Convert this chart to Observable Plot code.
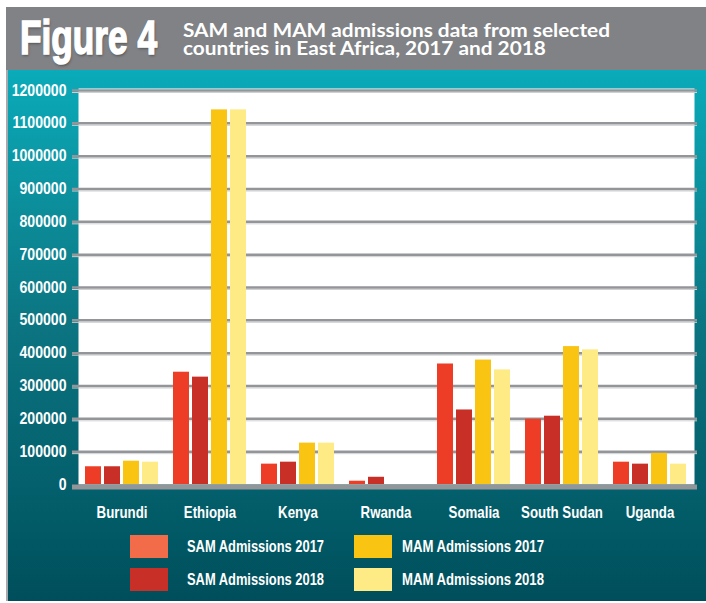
<!DOCTYPE html>
<html><head><meta charset="utf-8">
<script src="https://cdn.jsdelivr.net/npm/d3@7"></script>
<script src="https://cdn.jsdelivr.net/npm/@observablehq/plot@0.6"></script>
<style>
body{margin:0;background:#fff;}
#wrap{position:relative;width:706px;height:603px;overflow:hidden;background:#fff;
  font-family:'Liberation Sans',Arial,sans-serif;font-weight:bold;}
#header{position:absolute;left:6px;top:7px;width:700px;height:63px;background:#808285;}
#fig{position:absolute;left:20px;top:14px;color:#fff;font-size:48px;line-height:48px;white-space:nowrap;
  transform-origin:0 0;-webkit-text-stroke:1.6px #fff;text-shadow:1px 2px 3px rgba(0,0,0,0.35);}
#title{position:absolute;left:183px;top:21px;color:#fff;font-family:Lato,'Open Sans',sans-serif;font-weight:bold;
  font-size:19px;line-height:18px;white-space:nowrap;transform-origin:0 0;}
#panel{position:absolute;left:6px;top:70px;width:700px;height:531px;border-left:2px solid #a7a9ac;box-sizing:border-box;
  background:linear-gradient(to bottom,#0aabba 0px,#0c8b98 150px,#0b7480 260px,#015a66 460px,#004e5b 531px);}
#chart{position:absolute;left:0;top:70px;}
.sw{position:absolute;width:38px;height:23px;}
.lt{position:absolute;color:#fff;font-size:16px;line-height:23px;white-space:nowrap;transform-origin:0 50%;}
</style></head>
<body>
<div id="wrap">
  <div id="header"></div>
  <div id="fig">Figure 4</div>
  <div id="title"><div id="t1">SAM and MAM admissions data from selected</div><div id="t2">countries in East Africa, 2017 and 2018</div></div>
  <div id="panel"></div>
  <div id="chart"></div>
  <div id="legend"></div>
</div>
<script>
const countries = ["Burundi","Ethiopia","Kenya","Rwanda","Somalia","South Sudan","Uganda"];
const series = ["SAM Admissions 2017","SAM Admissions 2018","MAM Admissions 2017","MAM Admissions 2018"];
const sam2017 = [54000, 342000, 62000, 10000, 367000, 199000, 68000];
const sam2018 = [54000, 327000, 68000, 22000, 227000, 208000, 62000];
const mam2017 = [71000, 1141000, 126000, 0, 379000, 420000, 95000];
const mam2018 = [68000, 1141000, 126000, 0, 349000, 410000, 62000];
const yTicks = [0,100000,200000,300000,400000,500000,600000,700000,800000,900000,1000000,1100000,1200000];
const barColors = ["#ee3d27","#c83027","#fac412","#feeb85"];
const legendColors = ["#f36c4a","#c83027","#fac412","#feeb85"];

const values = [sam2017, sam2018, mam2017, mam2018];
const data = countries.flatMap((c,i)=>series.map((s,j)=>({country:c, series:s, value:values[j][i]})));

const chart = Plot.plot({
  width:706, height:460, marginLeft:78, marginRight:12, marginTop:18, marginBottom:46,
  style:{background:"transparent", color:"#fff", fontFamily:"'Liberation Sans',Arial,sans-serif", fontSize:"16px", fontWeight:"bold"},
  x:{domain:countries, paddingInner:0.17, paddingOuter:0.085, label:null, tickSize:0, tickPadding:22},
  y:{domain:[0,1200000], ticks:yTicks, tickFormat:d3.format("d"), label:null, tickSize:0, tickPadding:12, insetTop:2},
  color:{domain:series, range:barColors},
  marks:[
    Plot.frame({fill:"white", stroke:"none"}),
    Plot.ruleY(yTicks.filter(d=>d>0), {stroke:"#cfd0d2", strokeWidth:1, dy:2, insetLeft:-6, insetRight:-3}),
    Plot.ruleY(yTicks.filter(d=>d>0), {stroke:"#939598", strokeWidth:2.5, insetLeft:-6, insetRight:-3}),
    Plot.ruleY([0], {stroke:"#939598", strokeWidth:5, dy:2.5, insetLeft:-6, insetRight:-3}),
    ...series.map((s,j)=>Plot.barY(data.filter(d=>d.series===s), {x:"country", y:"value", fill:"series", insetLeft:j*19, insetRight:(3-j)*19}))
  ]
});
document.getElementById("chart").appendChild(chart);

// condense axis labels (reference uses a condensed face)
function squeeze(sel, s){
  chart.querySelectorAll(sel).forEach(t=>{
    const tr = t.getAttribute("transform");
    if (tr) t.setAttribute("transform", tr + ` scale(${s},1)`);
    else {
      const x = +t.getAttribute("x")||0, y = +t.getAttribute("y")||0;
      t.setAttribute("transform", `translate(${x},${y}) scale(${s},1)`);
      t.setAttribute("x",0); t.setAttribute("y",0);
    }
  });
}
squeeze('g[aria-label="y-axis tick label"] text', 0.88);
squeeze('g[aria-label="x-axis tick label"] text', 0.83);

// legend
const legendPos = [[130,535,187,137],[130,568,187,137],[354,535,402,142],[354,568,402,142]];
const leg = document.getElementById("legend");
series.forEach((s,j)=>{
  const [sx,sy,tx,tw] = legendPos[j];
  const sw = document.createElement("div"); sw.className="sw";
  sw.style.left=sx+"px"; sw.style.top=sy+"px"; sw.style.background=legendColors[j];
  const t = document.createElement("div"); t.className="lt";
  t.style.left=tx+"px"; t.style.top=sy+"px"; t.textContent=s;
  leg.appendChild(sw); leg.appendChild(t);
  const w = t.getBoundingClientRect().width;
  if (w>0) t.style.transform = `scaleX(${tw/w})`;
});

// fit header text widths
const fig = document.getElementById("fig");
fig.style.display="inline-block";
const fw = fig.getBoundingClientRect().width;
fig.style.transform = `scaleX(${137/fw})`;
const t1 = document.getElementById("t1");
t1.style.display="inline-block";
const w1 = t1.getBoundingClientRect().width;
t1.style.display="block";
document.getElementById("title").style.transform = `scaleX(${427/w1})`;
</script>
</body></html>
